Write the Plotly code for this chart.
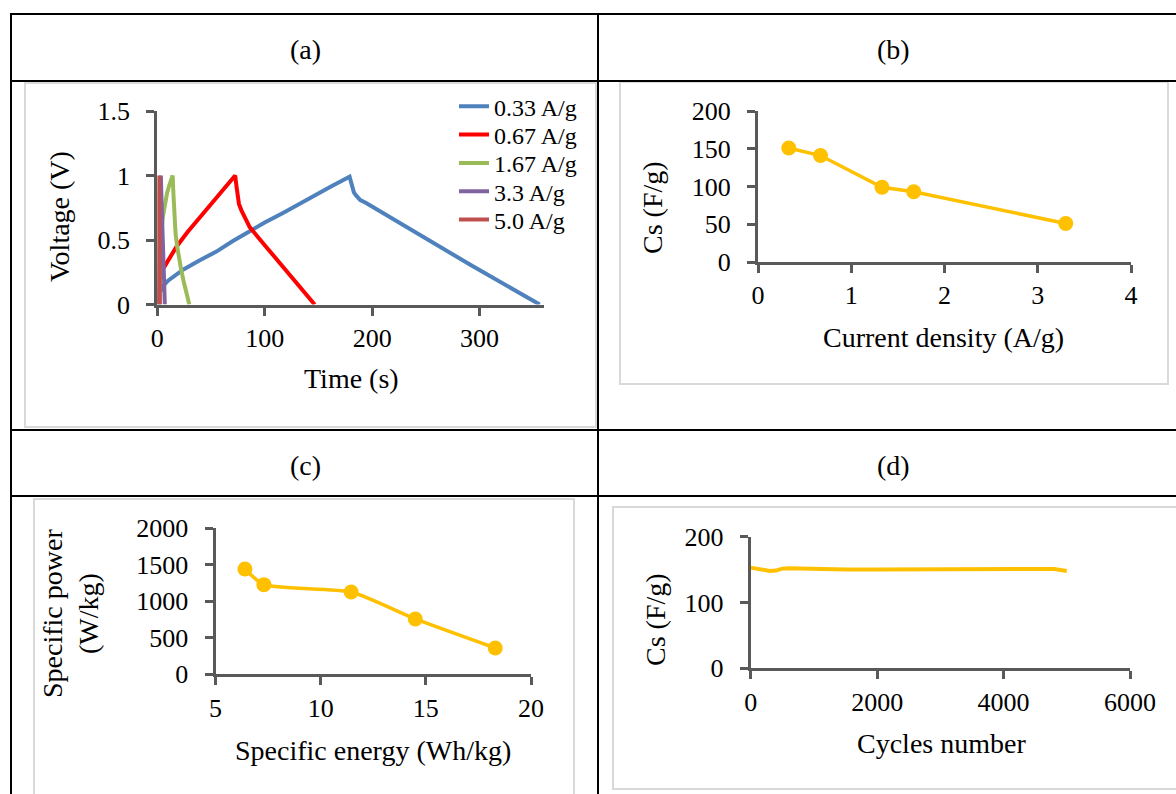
import plotly.graph_objects as go

W, H = 1176, 794
FONT = "Liberation Serif, Times New Roman, serif"
AX = "#595959"
GOLD = "#FFC000"

# ---------------- data ----------------
# (a) galvanostatic charge/discharge curves
t_033 = [4, 5, 10, 24, 40, 55, 70, 86, 100, 117, 132, 148, 163, 179, 180.5, 181.4, 183, 185, 189, 194.4, 232, 293, 356]
v_033 = [0.10, 0.14, 0.185, 0.27, 0.345, 0.41, 0.49, 0.57, 0.635, 0.71, 0.78, 0.85, 0.92, 0.99, 0.95, 0.91, 0.87, 0.846, 0.81, 0.787, 0.60, 0.30, 0.0]
t_067 = [4, 5, 10, 18, 28, 40, 55, 65, 72.5, 73.5, 74.3, 76, 78.3, 82, 86, 100, 117, 132, 146.5]
v_067 = [0.20, 0.27, 0.34, 0.45, 0.56, 0.68, 0.83, 0.92, 1.0, 0.93, 0.86, 0.78, 0.73, 0.66, 0.60, 0.46, 0.295, 0.15, 0.0]
t_167 = [2, 3, 5, 7, 9, 11, 13, 14.3, 15, 16, 17, 18.5, 20, 22, 24.5, 27, 29.8]
v_167 = [0.0, 0.5, 0.67, 0.78, 0.86, 0.92, 0.97, 1.0, 0.86, 0.68, 0.55, 0.45, 0.37, 0.28, 0.18, 0.09, 0.0]
t_33 = [1.5, 3.3, 3.8, 7.0]
v_33 = [0.0, 1.0, 0.85, 0.0]
t_50 = [1.1, 1.7, 2.4]
v_50 = [0.0, 1.0, 0.0]
gcd_names = ["0.33 A/g", "0.67 A/g", "1.67 A/g", "3.3 A/g", "5.0 A/g"]
gcd_colors = ["#4F81BD", "#FF0000", "#9BBB59", "#8064A2", "#C0504D"]

# (b) specific capacitance vs current density
current_density = [0.33, 0.67, 1.33, 1.67, 3.3]
cs_b = [151, 141, 99, 93, 51]

# (c) Ragone plot
spec_energy = [6.4, 7.3, 11.45, 14.5, 18.3]
spec_power = [1442, 1228, 1127, 758, 360]

# (d) cycling stability
cycles = [0, 100, 200, 300, 400, 450, 500, 600, 800, 900, 1000, 1500, 2000, 2500, 3000, 3200, 3500, 4000, 4500, 4800, 5000]
cs_d = [153, 151, 148.5, 148, 148.5, 150, 151.5, 152, 151.5, 150.5, 150, 150, 150, 150, 150, 150.5, 150, 150, 150, 151, 148]

# ---------------- helpers ----------------
def px(x):
    return x / W

def py(y):
    return 1 - y / H

def axis(dom, rng, dtick, anchor, fmt=None, tick0=0, standoff=None):
    d = dict(domain=dom, range=rng, dtick=dtick, tick0=tick0, anchor=anchor,
             showline=True, linecolor=AX, linewidth=3, ticks="outside", ticklen=8,
             tickwidth=3, tickcolor=AX, showgrid=False, zeroline=False, automargin=False,
             tickfont=dict(family=FONT, size=26, color="black"), fixedrange=True)
    if fmt:
        d["tickformat"] = fmt
    if standoff is not None:
        d["ticklabelstandoff"] = standoff
    return d

fig = go.Figure()

legend_rows = [106.7, 135, 163.3, 191.7, 220]
legend_ids = ["legend", "legend2", "legend3", "legend4", "legend5"]
gcd = [(t_033, v_033), (t_067, v_067), (t_167, v_167), (t_33, v_33), (t_50, v_50)]
for (tt, vv), nm, col, lid in zip(gcd, gcd_names, gcd_colors, legend_ids):
    fig.add_trace(go.Scatter(x=tt, y=vv, name=nm, mode="lines",
                             line=dict(color=col, width=4), xaxis="x", yaxis="y",
                             legend=lid))

fig.add_trace(go.Scatter(x=current_density, y=cs_b, mode="lines+markers",
                         line=dict(color=GOLD, width=3.5), marker=dict(color=GOLD, size=15),
                         xaxis="x2", yaxis="y2", showlegend=False))
fig.add_trace(go.Scatter(x=spec_energy, y=spec_power, mode="lines+markers",
                         line=dict(color=GOLD, width=3.5, shape="spline", smoothing=0.6),
                         marker=dict(color=GOLD, size=15),
                         xaxis="x3", yaxis="y3", showlegend=False))
fig.add_trace(go.Scatter(x=cycles, y=cs_d, mode="lines",
                         line=dict(color=GOLD, width=4),
                         xaxis="x4", yaxis="y4", showlegend=False))

YS = 11
fig.update_layout(
    template="none",
    width=W, height=H, margin=dict(l=0, r=0, t=0, b=0, pad=0), autosize=False,
    paper_bgcolor="white", plot_bgcolor="rgba(0,0,0,0)",
    showlegend=True,
    xaxis=axis([px(157.3), px(544)], [0, 360], 100, "y"),
    yaxis=axis([py(304.5), py(111)], [0, 1.5], 0.5, "x", standoff=YS),
    xaxis2=axis([px(758), px(1131)], [0, 4], 1, "y2"),
    yaxis2=axis([py(262), py(111)], [0, 200], 50, "x2", standoff=YS),
    xaxis3=axis([px(215.5), px(531)], [5, 20], 5, "y3", tick0=5),
    yaxis3=axis([py(674.3), py(528.3)], [0, 2000], 500, "x3", "d", standoff=YS),
    xaxis4=axis([px(750.7), px(1130)], [0, 6000], 2000, "y4", "d"),
    yaxis4=axis([py(668.3), py(536.7)], [0, 200], 100, "x4", standoff=YS),
)
for lid, ry in zip(legend_ids, legend_rows):
    fig.update_layout({lid: dict(x=px(454), y=py(ry), xanchor="left", yanchor="middle",
                                 font=dict(family=FONT, size=24, color="black"),
                                 bgcolor="rgba(0,0,0,0)", borderwidth=0, itemwidth=30)})

# table lines and chart frames
shapes = []
def seg(x0, y0, x1, y1, color="black", width=2):
    shapes.append(dict(type="line", xref="paper", yref="paper",
                       x0=px(x0), y0=py(y0), x1=px(x1), y1=py(y1),
                       line=dict(color=color, width=width), layer="above"))
def rect(x0, y0, x1, y1):
    shapes.append(dict(type="rect", xref="paper", yref="paper",
                       x0=px(x0), y0=py(y0), x1=px(x1), y1=py(y1),
                       line=dict(color="#D9D9D9", width=2), layer="below"))

for yy in [14, 81, 430, 496]:
    seg(10, yy, 1180, yy)
seg(11, 13, 11, 800)
seg(598, 13, 598, 800)
rect(25, 83, 596, 427)
rect(620, 82, 1168, 384)
rect(34, 499, 574, 805)
rect(613, 507, 1185, 789)
fig.update_layout(shapes=shapes)

anns = []
def txt(x, y, s, angle=0, size=28):
    anns.append(dict(x=px(x), y=py(y), xref="paper", yref="paper", text=s,
                     showarrow=False, textangle=angle, xanchor="center", yanchor="middle",
                     font=dict(family=FONT, size=size, color="black")))

txt(305, 50, "(a)")
txt(893, 50, "(b)")
txt(305, 465, "(c)")
txt(893, 465, "(d)")
txt(351, 378, "Time (s)")
txt(59, 217, "Voltage (V)", -90)
txt(943, 337, "Current density (A/g)")
txt(652, 207, "Cs (F/g)", -90)
txt(373, 750, "Specific energy (Wh/kg)")
txt(70, 614, "Specific power<br>(W/kg)", -90)
txt(941, 743, "Cycles number")
txt(655, 620, "Cs (F/g)", -90)
fig.update_layout(annotations=anns)

fig.write_html("out.html", config={"displayModeBar": False},
               post_script="document.body.style.margin='0px';document.body.style.overflow='hidden';")
